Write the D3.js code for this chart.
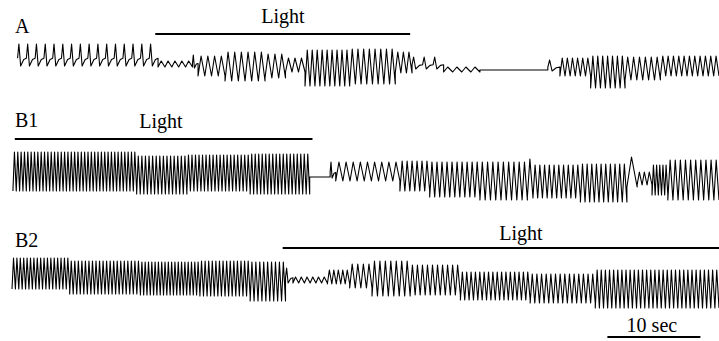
<!DOCTYPE html>
<html>
<head>
<meta charset="utf-8">
<script src="https://cdn.jsdelivr.net/npm/d3@7"></script>
<style>
  body { margin: 0; background: #fff; }
</style>
</head>
<body>
<svg id="chart"></svg>
<script>
// Recording segments:
// [start sec, end sec, number of cycles, peak, trough, shape]
// shape: 0 plain, 1 spiky
// peak / trough are deflections from each trace's resting level (arbitrary units)
const traceA = [
  [0.6, 15.7, 16, 26, 4, 1],
  [15.7, 19.4, 5, 9, 3, 0],
  [19.4, 20.0, 1, 15, 2, 1],
  [20.0, 22.9, 4, 14, -6, 0],
  [22.9, 27.2, 6, 18, -11, 0],
  [27.2, 29.4, 3, 16, -8, 0],
  [29.4, 31.5, 3, 12, -2, 0],
  [31.5, 36.3, 9, 20, -16, 0],
  [36.3, 41.2, 8, 21, -14, 0],
  [41.2, 43.0, 3, 18, -3, 0],
  [43.0, 46.4, 3, 13, 1, 1],
  [46.4, 50.3, 4, 3, -2, 0],
  [50.3, 57.6, 0, 0, 0, 0],
  [57.6, 58.9, 1, 10, -1, 1],
  [58.9, 62.2, 6, 12, -6, 0],
  [62.2, 65.9, 7, 14, -18, 0],
  [65.9, 69.7, 6, 13, -10, 0],
  [69.7, 76.0, 11, 14, -6, 0]
];

const traceB1 = [
  [0.1, 13.4, 37, 25, -14, 0],
  [13.4, 18.8, 14, 21, -17, 0],
  [18.8, 25.6, 18, 22, -14, 0],
  [25.6, 32.0, 17, 23, -17, 0],
  [32.0, 34.2, 0, 0, 0, 0],
  [34.2, 34.8, 1, 15, -1, 1],
  [34.8, 41.7, 9, 15, -4, 0],
  [41.7, 44.9, 6, 16, -14, 0],
  [44.9, 50.3, 10, 15, -20, 0],
  [50.3, 55.4, 9, 15, -23, 0],
  [55.4, 56.0, 1, 18, -20, 0],
  [56.0, 61.1, 10, 12, -21, 0],
  [61.1, 66.1, 10, 13, -25, 0],
  [66.1, 67.2, 1, 20, -10, 0],
  [67.2, 68.8, 3, 5, -8, 0],
  [68.8, 70.5, 5, 12, -18, 0],
  [70.5, 76.0, 10, 17, -23, 0]
];

const traceB2 = [
  [0.0, 6.2, 17, 22, -9, 0],
  [6.2, 13.8, 20, 19, -14, 0],
  [13.8, 20.2, 18, 18, -15, 0],
  [20.2, 25.6, 14, 19, -16, 0],
  [25.6, 29.4, 9, 18, -21, 0],
  [29.4, 30.2, 1, 12, -3, 1],
  [30.2, 33.9, 6, 3, -3, 0],
  [33.9, 36.3, 5, 10, -4, 0],
  [36.3, 38.7, 4, 16, -8, 0],
  [38.7, 42.8, 7, 19, -16, 0],
  [42.8, 48.2, 10, 15, -15, 0],
  [48.2, 55.7, 16, 8, -20, 0],
  [55.7, 62.7, 14, 6, -23, 0],
  [62.7, 76.0, 30, 10, -28, 0]
];

const traceNames = ["A", "B1", "B2"];
// light on / off, seconds
const lightPeriods = [[15.4, 42.8], [0.3, 32.3], [29.1, 76.0]];
const lightLabel = "Light";
const scaleBarSec = [64.0, 74.0];
const scaleBarLabel = "10 sec";

// layout
const width = 719, height = 341;
const svg = d3.select("#chart")
  .attr("width", width).attr("height", height)
  .attr("font-family", "'Liberation Serif', 'Times New Roman', 'DejaVu Serif', serif")
  .attr("font-size", 20);

const x = d3.scaleLinear().domain([0, 76]).range([12, 719]);

const panels = [
  { data: traceA,  rest: 70,  nameY: 33,  lightY: 34,  lightTextX: 283, lightTextY: 23 },
  { data: traceB1, rest: 177, nameY: 127, lightY: 139, lightTextX: 161, lightTextY: 128 },
  { data: traceB2, rest: 280, nameY: 247, lightY: 248, lightTextX: 521, lightTextY: 240 }
];

// turn the segments into a pen trace
function penPoints(segs) {
  const pts = [];
  segs.forEach(([t0, t1, n, top, bot, shape]) => {
    if (n === 0) { pts.push([t0, 0], [t1, 0]); return; }
    const p = (t1 - t0) / n, h = top - bot;
    for (let i = 0; i < n; i++) {
      const s = t0 + i * p;
      if (shape === 1) {
        // shoulder, sharp spike, trough, slow rise back to shoulder
        pts.push([s, bot + h * 0.35], [s + 0.15 * p, top], [s + 0.35 * p, bot],
                 [s + 0.7 * p, bot + h * 0.3], [s + p, bot + h * 0.35]);
      } else {
        pts.push([s, bot], [s + 0.45 * p, top], [s + p, bot]);
      }
    }
  });
  return pts;
}

panels.forEach((pn, i) => {
  const y = d3.scaleLinear().domain([-30, 30]).range([pn.rest + 30, pn.rest - 30]);
  const line = d3.line().x(d => x(d[0])).y(d => y(d[1]));

  svg.append("path")
    .datum(penPoints(pn.data))
    .attr("d", line)
    .attr("fill", "none")
    .attr("stroke", "#000")
    .attr("stroke-width", 1.1)
    .attr("stroke-linejoin", "round");

  svg.append("text")
    .attr("x", 15).attr("y", pn.nameY)
    .text(traceNames[i]);

  svg.append("line")
    .attr("x1", x(lightPeriods[i][0])).attr("x2", x(lightPeriods[i][1]))
    .attr("y1", pn.lightY).attr("y2", pn.lightY)
    .attr("stroke", "#000").attr("stroke-width", 2);

  svg.append("text")
    .attr("x", pn.lightTextX).attr("y", pn.lightTextY)
    .attr("text-anchor", "middle")
    .text(lightLabel);
});

// scale bar
svg.append("line")
  .attr("x1", x(scaleBarSec[0])).attr("x2", x(scaleBarSec[1]))
  .attr("y1", 337).attr("y2", 337)
  .attr("stroke", "#000").attr("stroke-width", 2);

svg.append("text")
  .attr("x", (x(scaleBarSec[0]) + x(scaleBarSec[1])) / 2 - 2).attr("y", 332)
  .attr("text-anchor", "middle")
  .text(scaleBarLabel);
</script>
</body>
</html>
